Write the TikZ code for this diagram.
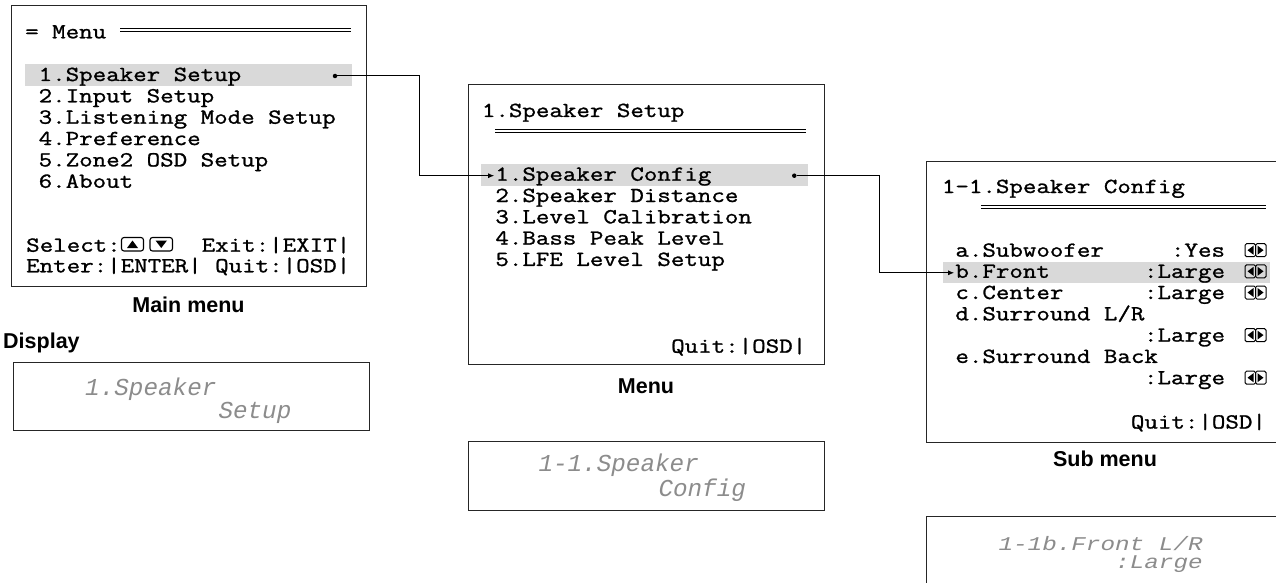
\documentclass[tikz,border=0pt]{standalone}
\usepackage{fontspec}
\newfontfamily\menufont{Latin Modern Mono}[FakeStretch=1.225, FakeBold=1.2]
\newfontfamily\lcdfont{Liberation Mono}
\newfontfamily\capfont{Liberation Sans}
\usetikzlibrary{arrows.meta, positioning}

\begin{document}
\begin{tikzpicture}[
  x=1pt, y=-1pt,
  screen/.style={
    rectangle,
    draw=black!85,
    line width=1pt,
    anchor=north west,
    inner sep=0pt
  },
  item/.style={anchor=base west, inner sep=0pt, text height=10pt, text depth=0pt,
    font=\menufont\fontsize{21.4}{24}\selectfont},
  value/.style={item, anchor=base east},
  lcd/.style={anchor=base west, inner sep=0pt, text=black!45,
    font=\lcdfont\itshape\fontsize{24.3}{26}\selectfont},
  caption/.style={inner sep=0pt, font=\capfont\bfseries\fontsize{21.5}{24}\selectfont},
  hilite/.style={fill=black!15},
  rule/.style={double, draw=black, line width=1pt, double distance=2pt},
  dot/.style={circle, fill=black, inner sep=0pt, minimum size=4.5pt},
  link/.style={-{Latex[length=6pt, width=5pt]}, line width=1pt, shorten >=1pt},
  key/.style={draw=black, line width=1.1pt, rounded corners=2.5pt}
]
\useasboundingbox (0,0) rectangle (1276,583);
\clip (0,0) rectangle (1276,583);
\fill[white] (0,0) rectangle (1276,583);

% screens and display windows
\node[screen, minimum width=355pt, minimum height=280pt] (mainBox) at (10.5,5.5) {};
\node[screen, minimum width=356pt, minimum height=279pt] (menuBox) at (467.5,84.5) {};
\node[screen, minimum width=400pt, minimum height=281pt] (subBox) at (925.5,160.5) {};
\node[screen, minimum width=356pt, minimum height=68pt] (lcdMain) at (12.5,361.5) {};
\node[screen, minimum width=356pt, minimum height=69pt] (lcdMenu) at (467.5,440.5) {};
\node[screen, minimum width=400pt, minimum height=100pt] (lcdSub) at (925.5,515.5) {};

% selected rows
\fill[hilite] (25,64) rectangle (352,86);
\fill[hilite] (481,164.3) rectangle (807.7,185.7);
\fill[hilite] (943,261.7) rectangle (1270,282.7);

% main menu
\node[item] (mainTitle) at (25,38.3) {=~Menu};
\draw[rule] (120,30) -- (351,30);
\foreach \txt [count=\i] in {1.Speaker Setup, 2.Input Setup, 3.Listening Mode Setup,
    4.Preference, 5.Zone2 OSD Setup, 6.About}
  \node[item] (main\i) at (38.5,{81+21.35*(\i-1)}) {\txt};
\node[item] (mainSelect) at (26,251.7) {Select:};
\draw[key] (121.5,237.5) rectangle (143.5,251);
\fill (127,248) -- (138,248) -- (132.5,240.5) -- cycle;
\draw[key] (150,237.5) rectangle (172.5,251);
\fill (155.5,240.5) -- (167,240.5) -- (161.25,248) -- cycle;
\node[item] (mainExit) at (201.5,251.7) {Exit:|EXIT|};
\node[item] (mainEnter) at (26,272.3) {Enter:|ENTER|~Quit:|OSD|};
\node[dot] (spkDot) at (335,76) {};

% speaker setup menu
\node[item] (menuTitle) at (481.7,117) {1.Speaker Setup};
\draw[rule] (495,131) -- (806,131);
\foreach \txt [count=\i] in {1.Speaker Config, 2.Speaker Distance, 3.Level Calibration,
    4.Bass Peak Level, 5.LFE Level Setup}
  \node[item] (menu\i) at (495.2,{180.7+21.3*(\i-1)}) {\txt};
\node[item] (menuQuit) at (671,352.7) {Quit:|OSD|};
\node[dot] (cfgDot) at (794.3,175.7) {};

% speaker config sub menu
\node[item] (subTitle) at (941.7,193) {1-1.Speaker Config};
\draw[rule] (981,207) -- (1265.7,207);
\node[item] (subA) at (955.2,256.7) {a.Subwoofer};
\node[item] (subB) at (955.2,277.8) {b.Front};
\node[item] (subC) at (955.2,299) {c.Center};
\node[item] (subD) at (955.2,320.3) {d.Surround L/R};
\node[item] (subE) at (955.2,362.9) {e.Surround Back};
\foreach \b/\v [count=\k] in {256.7/:Yes, 277.8/:Large, 299/:Large, 341.6/:Large, 384.2/:Large} {
  \node[value] (subVal\k) at (1225.2,\b) {\v};
  \draw[key, line width=1pt, rounded corners=1.5pt] (1245,\b-13) rectangle (1255.5,\b);
  \draw[key, line width=1pt, rounded corners=1.5pt] (1255.5,\b-13) rectangle (1266,\b);
  \fill (1247.5,\b-6.5) -- (1253.5,\b-11) -- (1253.5,\b-2) -- cycle;
  \fill (1263.5,\b-6.5) -- (1257.5,\b-11) -- (1257.5,\b-2) -- cycle;
}
\node[item] (subQuit) at (1130.7,428.5) {Quit:|OSD|};

% display windows
\node[lcd] (lcdMain1) at (85,395) {1.Speaker};
\node[lcd] (lcdMain2) at (218.3,418.3) {Setup};
\node[lcd] (lcdMenu1) at (538.3,471.7) {1-1.Speaker};
\node[lcd] (lcdMenu2) at (658.3,496.7) {Config};
\node[lcd] (lcdSub1) at (998.3,550) {\scalebox{1}[0.8]{1-1b.Front L/R}};
\node[lcd] (lcdSub2) at (1115,568.3) {\scalebox{1}[0.8]{:Large}};

% captions
\node[caption, below=10pt of mainBox] (mainCap) {Main menu};
\node[caption, below=14pt of menuBox] (menuCap) {Menu};
\node[caption, anchor=base] (subCap) at (1105,466.7) {Sub menu};
\node[caption, anchor=base west] (lcdCap) at (3,348) {Display};

% links
\coordinate (jogA) at (419.5,0);
\coordinate (jogB) at (879.5,0);
\draw[link] (spkDot) -- (spkDot -| jogA) |- (menu1.west);
\draw[link] (cfgDot) -- (cfgDot -| jogB) |- (subB.west);
\end{tikzpicture}
\end{document}
